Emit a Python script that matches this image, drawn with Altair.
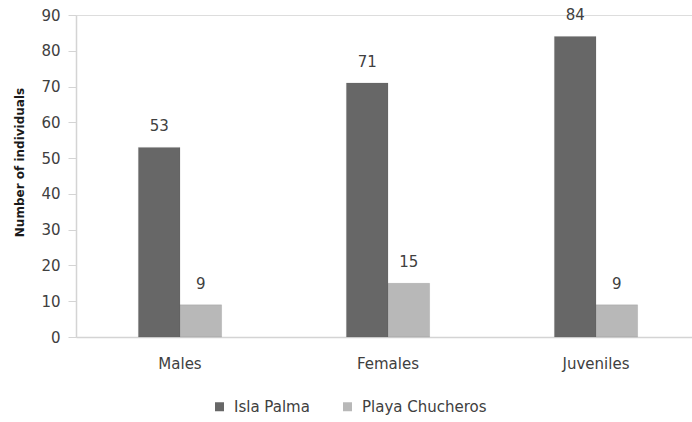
import altair as alt
import pandas as pd

# Counts of individuals by group at each site
groups = ["Males", "Females", "Juveniles"]
sites = ["Isla Palma", "Playa Chucheros"]
isla_palma = [53, 71, 84]
playa_chucheros = [9, 15, 9]
y_ticks = [0, 10, 20, 30, 40, 50, 60, 70, 80, 90]

rows = []
for g, a, b in zip(groups, isla_palma, playa_chucheros):
    rows.append({"group": g, "site": sites[0], "count": a})
    rows.append({"group": g, "site": sites[1], "count": b})
df = pd.DataFrame(rows)

font = "DejaVu Sans"
text_color = "#404040"
axis_color = "#d4d4d4"
colors = ["#676767", "#b8b8b8"]

x = alt.X(
    "group:N",
    sort=groups,
    title=None,
    scale=alt.Scale(paddingInner=0.6, paddingOuter=0.3, range=[0, 624]),
    axis=alt.Axis(
        labelAngle=0,
        labelFont=font,
        labelFontSize=15,
        labelColor=text_color,
        labelBaseline="middle",
        labelPadding=26,
        ticks=False,
        domainColor=axis_color,
        domainWidth=1.5,
    ),
)
y = alt.Y(
    "count:Q",
    title="Number of individuals",
    scale=alt.Scale(domain=[0, 90], nice=False),
    axis=alt.Axis(
        values=y_ticks,
        labelOverlap=False,
        grid=False,
        labelFont=font,
        labelFontSize=15,
        labelColor=text_color,
        labelPadding=8,
        tickColor=axis_color,
        tickSize=8,
        domainColor=axis_color,
        domainWidth=1.5,
        titleFont=font,
        titleFontSize=12,
        titleFontWeight="bold",
        titleColor="#1a1a1a",
        titleBaseline="middle",
        titleX=-57,
        titleY=147,
    ),
)
xoff = alt.XOffset("site:N", sort=sites, scale=alt.Scale(paddingInner=0, paddingOuter=0))

base = alt.Chart(df).encode(x=x, xOffset=xoff, y=y)

bars = base.mark_bar(stroke="#5a5a5a", strokeOpacity=0.15).encode(
    color=alt.Color(
        "site:N",
        sort=sites,
        scale=alt.Scale(domain=sites, range=colors),
        legend=alt.Legend(
            title=None,
            orient="none",
            legendX=136,
            legendY=384,
            direction="horizontal",
            symbolType="square",
            symbolSize=81,
            symbolStrokeWidth=0,
            labelFont=font,
            labelFontSize=15,
            labelColor=text_color,
            columnPadding=30,
            labelOffset=7,
        ),
    ),
)

labels = base.mark_text(
    dy=-21, font=font, fontSize=15, color=text_color, baseline="middle"
).encode(text="count:Q")

chart = (
    alt.layer(bars, labels)
    .properties(
        width=616,
        height=322,
        autosize=alt.AutoSizeParams(type="none"),
        padding={"left": 76, "top": 15, "right": 0, "bottom": 85},
    )
    .configure_view(strokeWidth=0)
    .configure(background="white")
)

chart.save("out.html", embed_options={"renderer": "svg", "actions": False})
